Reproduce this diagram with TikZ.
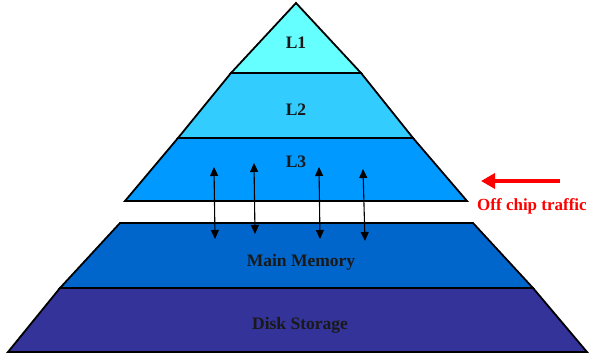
\documentclass[tikz,border=0pt]{standalone}
\usepackage{fontspec}
\setmainfont{Liberation Serif}
\usetikzlibrary{arrows.meta}

\definecolor{lone}{HTML}{66FFFF}
\definecolor{ltwo}{HTML}{33CCFF}
\definecolor{lthree}{HTML}{0099FF}
\definecolor{mainmem}{HTML}{0066CC}
\definecolor{disk}{HTML}{333399}

\begin{document}
\begin{tikzpicture}[x=1pt,y=-1pt,>=Triangle,
    band/.style={draw=black,line width=1.8pt,line join=miter},
    lbl/.style={font=\fontsize{17.5}{19}\selectfont\bfseries,text=black!90},
    traffic/.style={<->,line width=1.1pt,>={Triangle[length=9pt,width=8pt]}}]
  % Frame
  \useasboundingbox (0,0) rectangle (592,358);

  % Cache levels
  \draw[band,fill=lone]   (296,3) -- (361,73) -- (231,73) -- cycle;
  \draw[band,fill=ltwo]   (231,73) -- (361,73) -- (413,138) -- (178,138) -- cycle;
  \draw[band,fill=lthree] (178,138) -- (413,138) -- (467,201) -- (125,201) -- cycle;

  % Off chip levels
  \draw[band,fill=mainmem] (120,223) -- (473,223) -- (533,288) -- (60,288) -- cycle;
  \draw[band,fill=disk]    (60,288) -- (533,288) -- (587,352) -- (8,352) -- cycle;

  % Labels
  \node[lbl] (l1) at (296,43) {L1};
  \node[lbl] (l2) at (296,110) {L2};
  \node[lbl] (l3) at (296,162) {L3};
  \node[lbl] (mem) at (301,262) {Main Memory};
  \node[lbl] (dsk) at (300,325) {Disk Storage};

  % Traffic between L3 and memory
  \coordinate (a1) at (214,167); \coordinate (b1) at (215,239);
  \coordinate (a2) at (254,163); \coordinate (b2) at (255,234);
  \coordinate (a3) at (319,167); \coordinate (b3) at (320,239);
  \coordinate (a4) at (363,169); \coordinate (b4) at (365,241);
  \foreach \i in {1,...,4}
    \draw[traffic] (a\i) -- (b\i);

  % Off chip marker
  \coordinate (rs) at (560,181);
  \coordinate (re) at (481,181);
  \draw[red,line width=4pt,-{Triangle[length=14pt,width=15pt]}] (rs) -- (re);
  \node[anchor=west,text=red,font=\fontsize{17}{19}\selectfont\bfseries,inner sep=0pt] (off) at (477,206) {Off chip traffic};
\end{tikzpicture}
\end{document}
